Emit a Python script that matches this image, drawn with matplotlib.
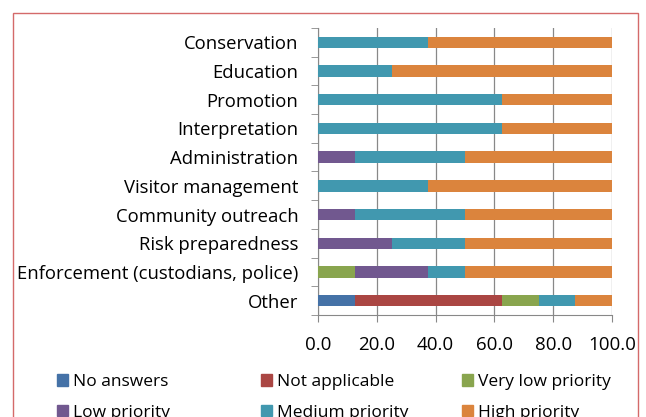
import matplotlib.pyplot as plt
from matplotlib.patches import Rectangle, Patch
import numpy as np

plt.rcParams['font.family'] = ['Open Sans', 'DejaVu Sans']

categories = ['Conservation', 'Education', 'Promotion', 'Interpretation',
              'Administration', 'Visitor management', 'Community outreach',
              'Risk preparedness', 'Enforcement (custodians, police)', 'Other']
series = ['No answers', 'Not applicable', 'Very low priority',
          'Low priority', 'Medium priority', 'High priority']
colors = ['#4572A7', '#AA4643', '#89A54E', '#71588F', '#4198AF', '#DB843D']

no_answers     = [0, 0, 0, 0, 0, 0, 0, 0, 0, 12.5]
not_applicable = [0, 0, 0, 0, 0, 0, 0, 0, 0, 50.0]
very_low       = [0, 0, 0, 0, 0, 0, 0, 0, 12.5, 12.5]
low            = [0, 0, 0, 0, 12.5, 0, 12.5, 25.0, 25.0, 0]
medium         = [37.5, 25.0, 62.5, 62.5, 37.5, 37.5, 37.5, 25.0, 12.5, 12.5]
high           = [62.5, 75.0, 37.5, 37.5, 50.0, 62.5, 50.0, 50.0, 50.0, 12.5]

values = [no_answers, not_applicable, very_low, low, medium, high]

fig = plt.figure(figsize=(6.46, 4.17), dpi=100)
ax = fig.add_axes([318/646, 1 - 315/417, 294/646, 287/417])

y = np.arange(len(categories))
left = np.zeros(len(categories))
handles = []
for name, vals, c in zip(series, values, colors):
    ax.barh(y, vals, left=left, height=0.4, color=c, zorder=3)
    left += np.array(vals)
    handles.append(Patch(color=c, label=name))

ax.set_ylim(len(categories) - 0.5, -0.5)
ax.set_xlim(0, 100)
ax.set_xticks(np.arange(0, 101, 20))
ax.set_xticklabels(['%.1f' % v for v in np.arange(0, 101, 20)], fontsize=13.5)
ax.set_yticks(y)
ax.set_yticklabels(categories, fontsize=13.3)
ax.tick_params(axis='y', length=0, pad=14)
ax.set_yticks(np.arange(-0.5, len(categories)), minor=True)
ax.tick_params(axis='y', which='minor', length=5, color='#888888')
ax.tick_params(axis='x', length=5, color='#888888', pad=10)
ax.grid(axis='x', color='#888888', linewidth=0.9, zorder=0)
for s in ['top', 'right']:
    ax.spines[s].set_visible(False)
ax.spines['left'].set_color('#888888')
ax.spines['bottom'].set_color('#888888')

# legend: three columns, each a small legend of two rows
col_x = [57, 261, 462]
for k, x0 in enumerate(col_x):
    idx = [k, k + 3]
    leg = fig.legend([handles[i] for i in idx], [series[i] for i in idx],
                     loc='upper left', bbox_to_anchor=(x0/646, 1 - 374/417),
                     frameon=False, fontsize=12.5, handlelength=0.65,
                     handleheight=0.65, handletextpad=0.3, labelspacing=0.85,
                     borderaxespad=0, borderpad=0)

fig.patches.append(Rectangle((12.5/646, -0.1), 625/646, 1.1 - 13/417,
                             transform=fig.transFigure, fill=False,
                             edgecolor='#D46A6A', linewidth=1.0))

fig.savefig('out.png', dpi=100)
